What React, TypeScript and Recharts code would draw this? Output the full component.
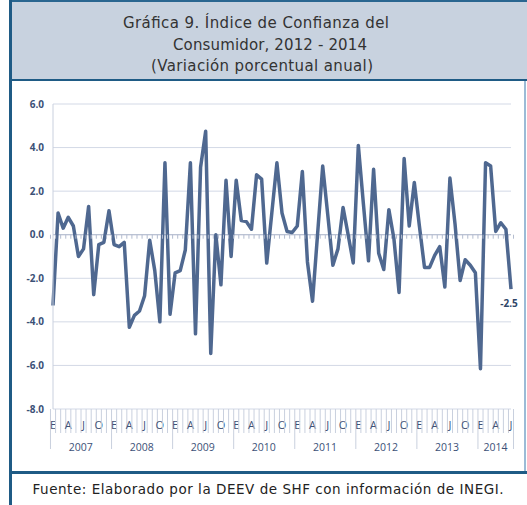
import { LineChart, Line, XAxis, YAxis, CartesianGrid, ReferenceLine, LabelList } from 'recharts';

const years = [2007, 2008, 2009, 2010, 2011, 2012, 2013, 2014];
const monthLabels = ['E', '', '', 'A', '', '', 'J', '', '', 'O', '', ''];
const yTicks = [-8, -6, -4, -2, 0, 2, 4, 6];

const values2007 = [-3.25, 1.0, 0.3, 0.8, 0.4, -1.0, -0.65, 1.3, -2.75, -0.45, -0.35, 1.1];
const values2008 = [-0.45, -0.55, -0.35, -4.25, -3.7, -3.5, -2.8, -0.25, -1.65, -4.0, 3.3, -3.65];
const values2009 = [-1.75, -1.65, -0.7, 3.3, -4.55, 3.1, 4.75, -5.45, 0.0, -2.3, 2.5, -1.0];
const values2010 = [2.5, 0.65, 0.6, 0.25, 2.75, 2.55, -1.3, 1.0, 3.3, 1.0, 0.15, 0.1];
const values2011 = [0.4, 2.9, -1.25, -3.05, 0.05, 3.15, 0.9, -1.4, -0.65, 1.25, 0.0, -1.3];
const values2012 = [4.1, 1.4, -1.2, 3.0, -0.85, -1.6, 1.15, -0.2, -2.65, 3.5, 0.4, 2.4];
const values2013 = [0.4, -1.5, -1.5, -0.95, -0.55, -2.4, 2.6, 0.5, -2.1, -1.15, -1.4, -1.75];
const values2014 = [-6.15, 3.3, 3.15, 0.15, 0.55, 0.25, -2.5];

const series = [values2007, values2008, values2009, values2010, values2011, values2012, values2013, values2014];

const data = series.flatMap((vals, yi) =>
  vals.map((v, m) => ({ key: `${years[yi]}-${m + 1}`, year: years[yi], month: m, count: vals.length, value: v }))
);

const CHART_W = 527;
const CHART_H = 391;
const MARGIN = { top: 23, right: 16, bottom: 0, left: 0 };
const Y_AXIS_W = 53;
const X_AXIS_H = 63;
const PLOT_W = CHART_W - MARGIN.left - MARGIN.right - Y_AXIS_W;
const PLOT_H = CHART_H - MARGIN.top - MARGIN.bottom - X_AXIS_H;
const BAND = PLOT_W / data.length;

const FONT = '"Open Sans", "DejaVu Sans", sans-serif';
const TITLE_FONT = '"DejaVu Sans", sans-serif';
const LINE_COLOR = '#4f6890';
const GRID = '#d3d9e6';
const AXIS_TEXT = '#3c5177';

function MonthTick(props: any) {
  const { x, y, payload } = props;
  const d = data[payload.index];
  if (!d) return null;
  const left = x - BAND / 2;
  const zeroY = y - (PLOT_H * 8) / 14;
  const isLast = payload.index === data.length - 1;
  const label = monthLabels[d.month];
  return (
    <g>
      <line x1={left} x2={left} y1={zeroY} y2={zeroY + 4} stroke="#b3bccf" />
      {isLast && <line x1={left + BAND} x2={left + BAND} y1={zeroY} y2={zeroY + 4} stroke="#b3bccf" />}
      <line x1={left} x2={left} y1={y} y2={y + (d.month === 0 ? 40 : 24)} stroke="#c9d0de" />
      {isLast && <line x1={left + BAND} x2={left + BAND} y1={y} y2={y + 40} stroke="#c9d0de" />}
      {label && (
        <text x={x} y={y + 20} textAnchor="middle" fontSize={11} fill={AXIS_TEXT} fontFamily={FONT}>
          {label}
        </text>
      )}
      {d.month === 0 && (
        <text x={left + (BAND * d.count) / 2} y={y + 42} textAnchor="middle" fontSize={10.5} fill={AXIS_TEXT} fontFamily={FONT}>
          {d.year}
        </text>
      )}
    </g>
  );
}

function LastLabel(props: any) {
  const { x, y, index, value } = props;
  if (index !== data.length - 1) return null;
  return (
    <text x={x - 2} y={y + 18} textAnchor="middle" fontSize={10} fontWeight="bold" fill="#2f4668" fontFamily={FONT}>
      {Number(value).toFixed(1)}
    </text>
  );
}

export default function App() {
  return (
    <div style={{ position: 'absolute', left: 0, top: 0, width: 527, height: 505, background: '#fff', overflow: 'hidden' }}>
      <div style={{ position: 'absolute', left: 12, top: 0, width: 515, height: 80, background: '#c8d2df', borderTop: '2px solid #2a6690', boxSizing: 'border-box' }} />
      <div style={{ position: 'absolute', left: 9, top: 79, width: 518, height: 2, background: '#1f5b85' }} />
      <div style={{ position: 'absolute', left: 9, top: 471, width: 518, height: 3, background: '#1f5b85' }} />
      <div style={{ position: 'absolute', left: 9, top: 0, width: 3, height: 505, background: '#1f5b85' }} />
      <div style={{ position: 'absolute', left: 524, top: 81, width: 2, height: 390, background: '#9bbbd6' }} />
      <svg style={{ position: 'absolute', left: 0, top: 0 }} width={527} height={81}>
        <text x={256} y={28} textAnchor="middle" fontSize={15} fill="#333" fontFamily={TITLE_FONT} textLength={266}>
          Gráfica 9. Índice de Confianza del
        </text>
        <text x={270} y={50} textAnchor="middle" fontSize={15} fill="#333" fontFamily={TITLE_FONT} textLength={194}>
          Consumidor, 2012 - 2014
        </text>
        <text x={262} y={71} textAnchor="middle" fontSize={15} fill="#333" fontFamily={TITLE_FONT} textLength={222}>
          (Variación porcentual anual)
        </text>
      </svg>
      <svg style={{ position: 'absolute', left: 0, top: 474 }} width={527} height={31}>
        <text x={268} y={20} textAnchor="middle" fontSize={13.5} fill="#222" fontFamily={TITLE_FONT} textLength={471}>
          Fuente: Elaborado por la DEEV de SHF con información de INEGI.
        </text>
      </svg>
      <div style={{ position: 'absolute', left: 0, top: 81 }}>
        <LineChart width={CHART_W} height={CHART_H} data={data} margin={MARGIN}>
          <CartesianGrid vertical={false} stroke={GRID} />
          <YAxis
            domain={[-8, 6]}
            ticks={yTicks}
            width={Y_AXIS_W}
            tickFormatter={(v: number) => v.toFixed(1)}
            tick={{ fontSize: 10, fontWeight: 'bold', fill: AXIS_TEXT, fontFamily: FONT }}
            axisLine={{ stroke: '#c9d0de' }}
            tickLine={false}
            tickSize={0}
            tickMargin={9}
            interval={0}
          />
          <XAxis
            dataKey="key"
            interval={0}
            height={X_AXIS_H}
            tick={<MonthTick />}
            tickLine={false}
            axisLine={false}
            tickSize={0}
            tickMargin={0}
          />
          <ReferenceLine y={0} stroke="#b3bccf" />
          <Line
            type="linear"
            dataKey="value"
            stroke={LINE_COLOR}
            strokeWidth={3.5}
            strokeLinejoin="round"
            dot={false}
            isAnimationActive={false}
          >
            <LabelList dataKey="value" content={<LastLabel />} />
          </Line>
        </LineChart>
      </div>
    </div>
  );
}
